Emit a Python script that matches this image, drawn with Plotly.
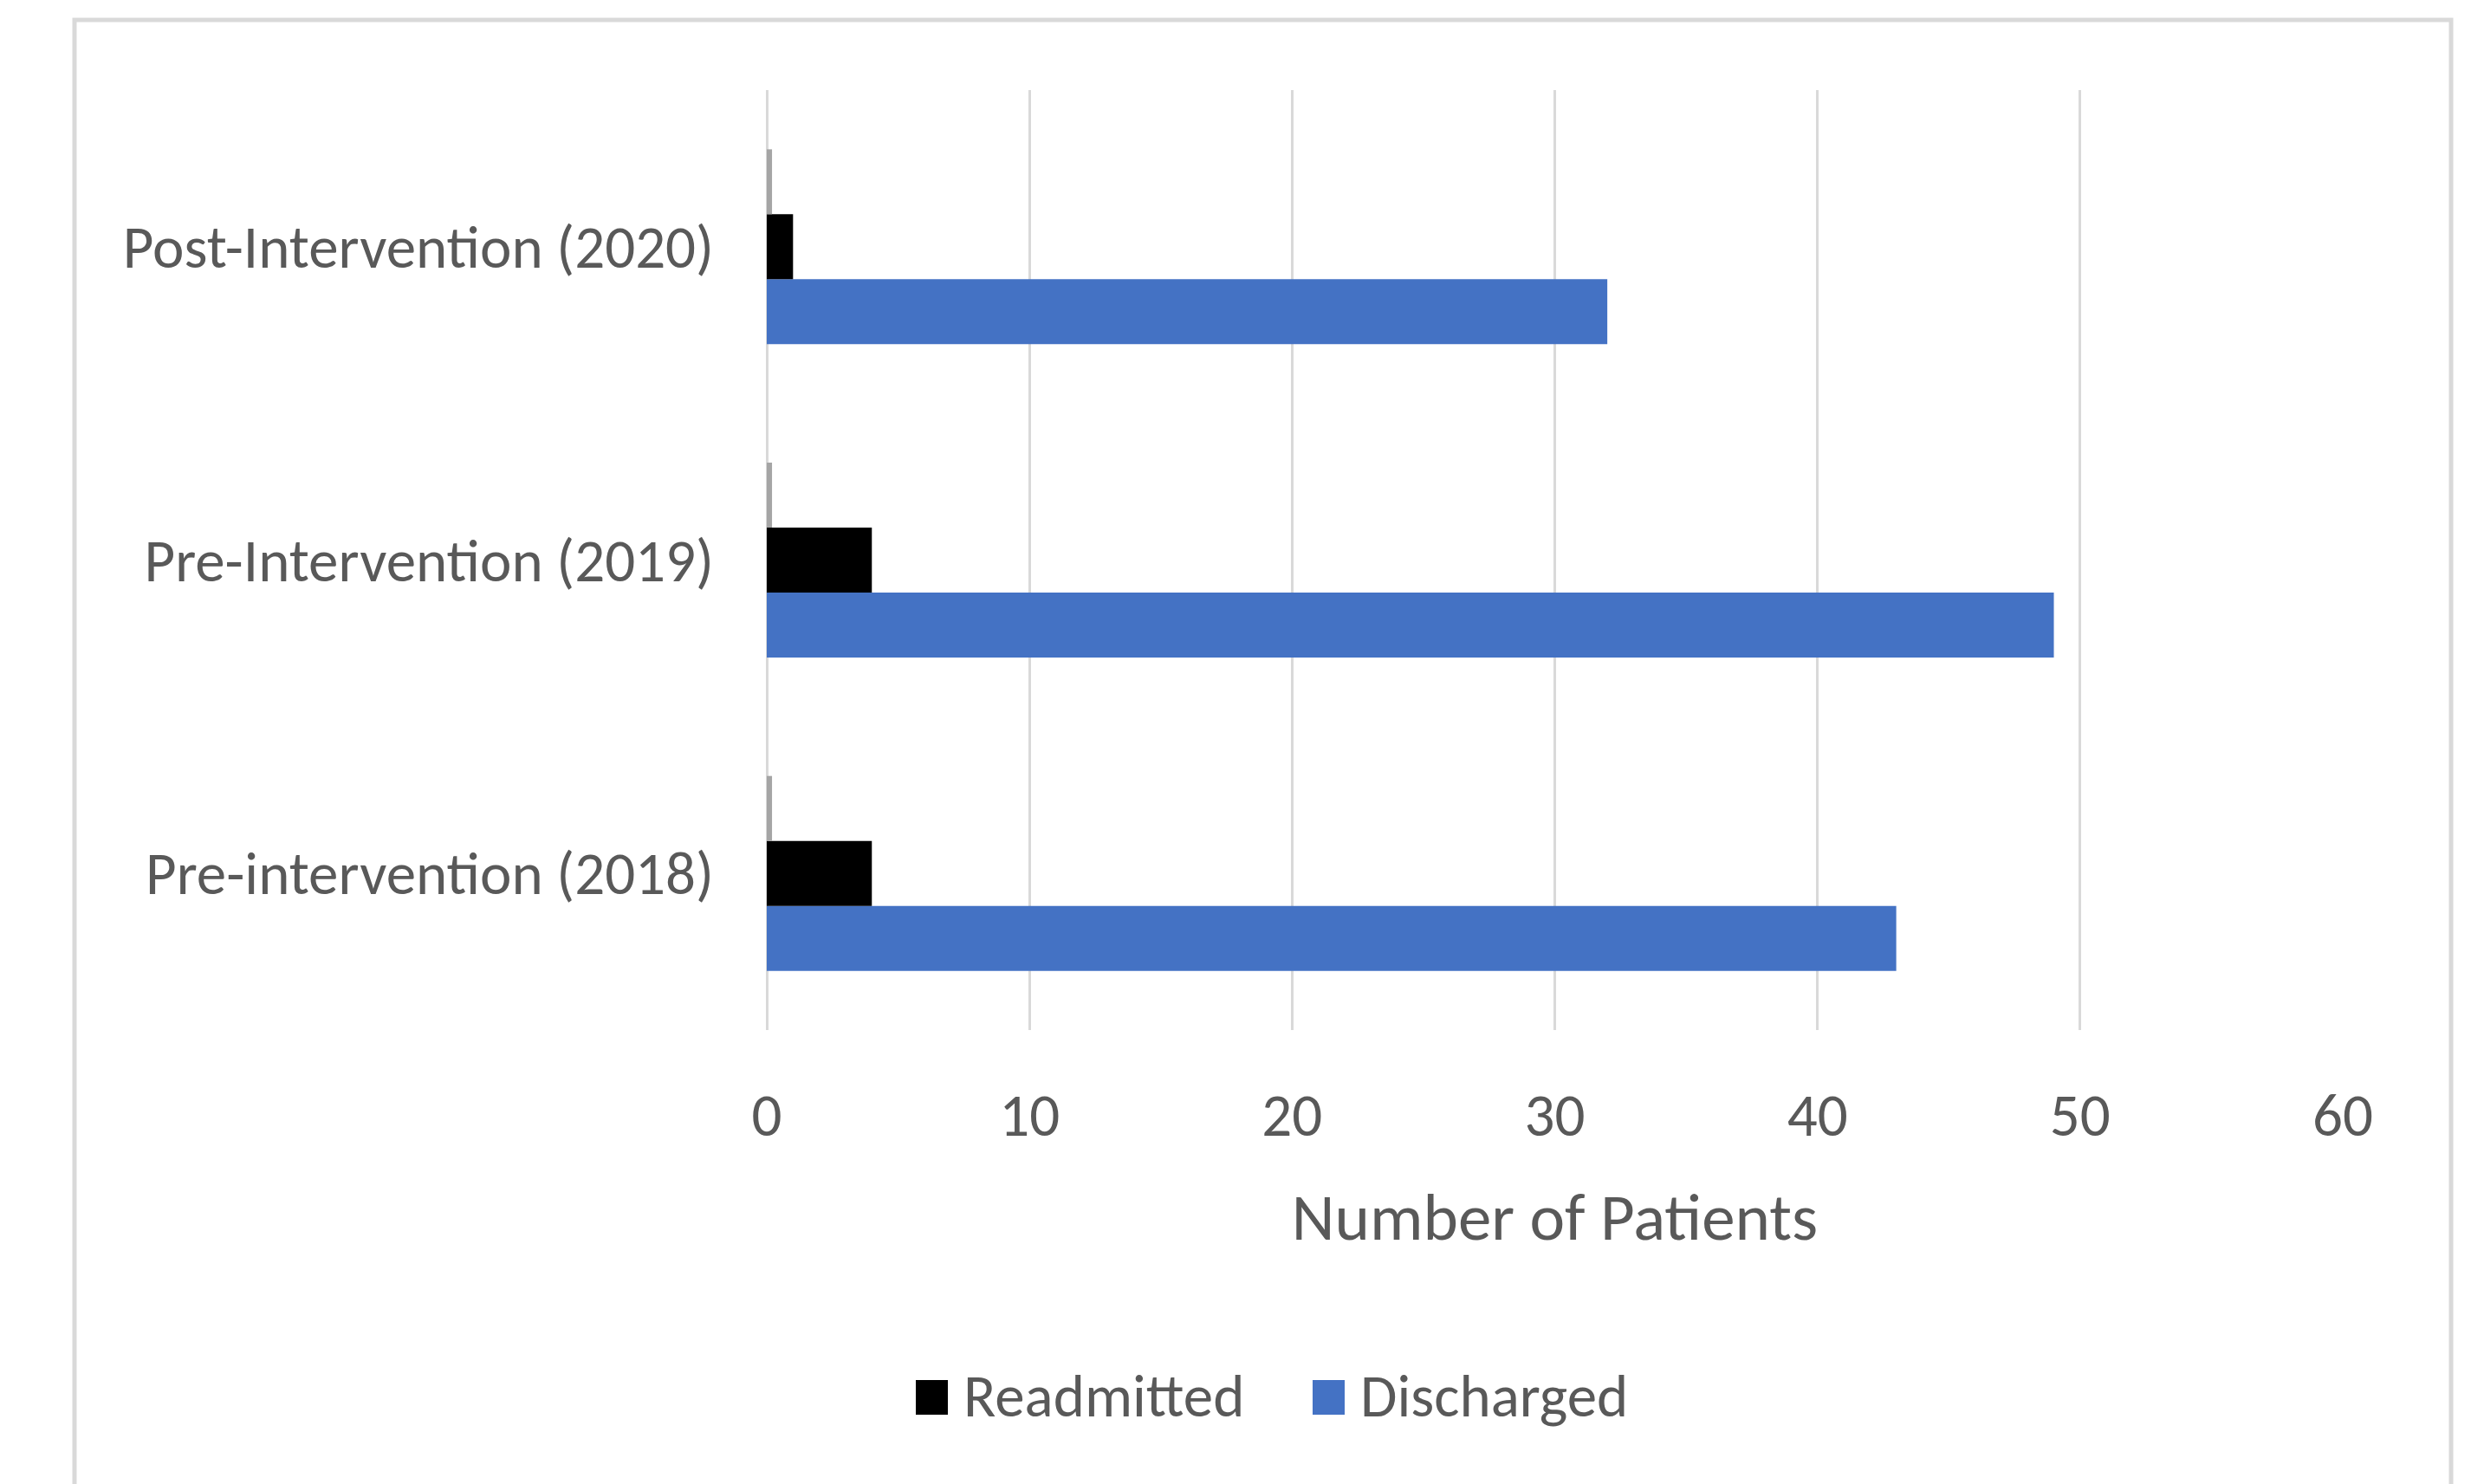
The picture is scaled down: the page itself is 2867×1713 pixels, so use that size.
import plotly.graph_objects as go

# ---- data ----
categories = ["Pre-intervention (2018)", "Pre-Intervention (2019)", "Post-Intervention (2020)"]
discharged = [43, 49, 32]
readmitted = [4, 4, 1]
third_series = [0.2, 0.2, 0.2]   # tiny unnamed series visible as thin grey slivers
x_ticks = [0, 10, 20, 30, 40, 50, 60]
legend_names = ["Readmitted", "Discharged"]
legend_colors = ["#000000", "#4472C4"]

# ---- geometry (pixels) ----
W, H = 2867, 1713
L, R, T, B = 885, 163, 104, 524
PW, PH = W - L - R, H - T - B


def px_to_paper_x(px):
    return (px - L) / PW


def px_to_paper_y(py):
    return (H - B - py) / PH


TEXT = "#595959"
GRID = "#d9d9d9"
FONT = "Carlito, Calibri, Lato"

fig = go.Figure()
fig.add_trace(go.Bar(y=categories, x=discharged, orientation="h", name="Discharged",
                     marker=dict(color="#4472C4", line=dict(width=0)), showlegend=False))
fig.add_trace(go.Bar(y=categories, x=readmitted, orientation="h", name="Readmitted",
                     marker=dict(color="#000000", line=dict(width=0)), showlegend=False))
fig.add_trace(go.Bar(y=categories, x=third_series, orientation="h", name="",
                     marker=dict(color="#A5A5A5", line=dict(width=0)), showlegend=False))

# ---- legend (drawn as swatches + labels, centred under the chart) ----
legend_swatch_x = [1057, 1515]   # left edge of each swatch (px)
SW, SH = 37, 40
LEG_Y = 1613
shapes = [dict(type="rect", xref="paper", yref="paper",
               x0=px_to_paper_x(86), x1=px_to_paper_x(2829),
               y0=px_to_paper_y(1760), y1=px_to_paper_y(23),
               line=dict(color=GRID, width=5), fillcolor="rgba(0,0,0,0)", layer="below")]
annotations = []
for nm, col, sx in zip(legend_names, legend_colors, legend_swatch_x):
    shapes.append(dict(type="rect", xref="paper", yref="paper",
                       x0=px_to_paper_x(sx), x1=px_to_paper_x(sx + SW),
                       y0=px_to_paper_y(LEG_Y + SH / 2), y1=px_to_paper_y(LEG_Y - SH / 2),
                       line=dict(width=0), fillcolor=col))
    annotations.append(dict(xref="paper", yref="paper", x=px_to_paper_x(sx + SW + 16),
                            y=px_to_paper_y(LEG_Y - 2), xanchor="left", yanchor="middle",
                            text=nm, showarrow=False, font=dict(size=69, color=TEXT)))

fig.update_layout(
    width=W, height=H,
    margin=dict(l=L, r=R, t=T, b=B, autoexpand=False),
    barmode="group", bargap=0.378, bargroupgap=0,
    paper_bgcolor="white", plot_bgcolor="white",
    font=dict(family=FONT, color=TEXT, size=69),
    showlegend=False,
    xaxis=dict(range=[0, 60], tickvals=x_ticks, ticktext=[str(v) for v in x_ticks],
               showgrid=True, gridcolor=GRID, gridwidth=3,
               zeroline=True, zerolinecolor=GRID, zerolinewidth=3,
               showline=False, ticks="", ticklabelstandoff=52, automargin=False,
               tickfont=dict(size=69, color=TEXT),
               title=dict(text="Number of Patients", font=dict(size=77, color=TEXT), standoff=48)),
    yaxis=dict(type="category", categoryorder="array", categoryarray=categories,
               showgrid=False, zeroline=False, showline=False, ticks="",
               ticklabelstandoff=60, automargin=False,
               tickfont=dict(size=69, color=TEXT)),
    shapes=shapes,
    annotations=annotations,
)

fig.write_html("out.html")
